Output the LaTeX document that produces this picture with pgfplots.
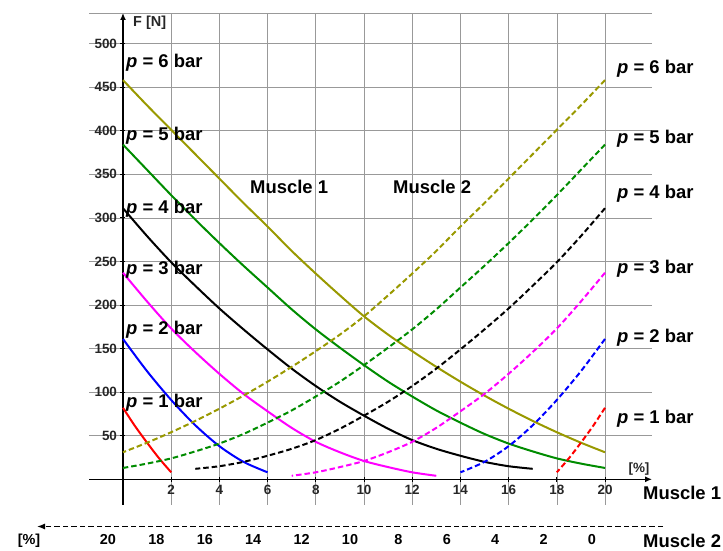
\documentclass[border=0pt]{standalone}
\usepackage{pgfplots}
\pgfplotsset{compat=1.18}
\usepackage{pgfplotstable}
\usetikzlibrary{arrows.meta}
\usepackage{fontspec}
\setmainfont{Liberation Sans}
\definecolor{olivec}{RGB}{153,153,0}
\definecolor{greenc}{RGB}{0,140,0}
\definecolor{magc}{RGB}{255,0,255}
\definecolor{bluec}{RGB}{0,0,255}
\definecolor{redc}{RGB}{255,0,0}

\pgfplotstableread{
x y
0 458
1 429
2 401
3 373
4 345
5 317
6 290
7 262
8 236
9 211
10 187
11 166
12 147
13 129
14 112
15 96
16 81
17 67
18 54
19 42
20 31
}\pSix
\pgfplotstableread{
x y
0 384
1 355
2 326
3 298
4 271
5 245
6 220
7 195
8 172
9 151
10 131
11 112
12 95
13 79
14 65
15 52
16 41
17 32
18 24
19 18
20 13
}\pFive
\pgfplotstableread{
x y
0 311
1 279
2 249
3 222
4 196
5 172
6 149
7 127
8 107
9 89
10 73
11 58
12 45
13 35
14 27
15 20
16 15
17 12
}\pFour
\pgfplotstableread{
x y
0 237
1 204
2 173
3 146
4 121
5 98
6 78
7 59
8 43
9 31
10 21
11 14
12 8
13 4
}\pThree
\pgfplotstableread{
x y
0 161
1 124
2 91
3 62
4 38
5 20
6 8
}\pTwo
\pgfplotstableread{
x y
0 82
0.5 61
1 42
1.5 24
2 8
}\pOne

\newcommand\lab{\bfseries\fontsize{18.5}{20}\selectfont}
\newcommand\plab[1]{\textit{p} = #1 bar}
\tikzset{dsh/.style={dash pattern=on 5.5bp off 3bp}}

\begin{document}
\begin{tikzpicture}
\path[use as bounding box] (0,0) rectangle (723bp,551bp);
\begin{axis}[
  at={(89bp,46bp)}, anchor=south west,
  scale only axis, width=563bp, height=492bp,
  xmin=-1.41, xmax=21.95, ymin=-29.5, ymax=535,
  axis lines=middle,
  axis line style={line width=1.3bp, -{Latex[length=7bp,width=6bp]}},
  xtick={2,4,...,20}, ytick={50,100,...,500},
  grid=major, grid style={black!40, line width=0.6bp},
  tick style={black, line width=0.8bp}, major tick length=5bp,
  ticklabel style={font=\bfseries\fontsize{13.5}{15}\selectfont, text=black!85},
  /pgf/number format/assume math mode=true,
  clip=false,
]
\draw[black!40, line width=0.6bp] (axis cs:-1.41,535) -- (axis cs:21.95,535);
\addplot[olivec, line width=2bp, smooth] table[x=x,y=y] {\pSix};
\addplot[greenc, line width=2bp, smooth] table[x=x,y=y] {\pFive};
\addplot[black, line width=2bp, smooth] table[x=x,y=y] {\pFour};
\addplot[magc, line width=2bp, smooth] table[x=x,y=y] {\pThree};
\addplot[bluec, line width=2bp, smooth] table[x=x,y=y] {\pTwo};
\addplot[redc, line width=2bp, smooth] table[x=x,y=y] {\pOne};
\addplot[olivec, line width=2bp, smooth, dsh] table[x expr=20-\thisrow{x},y=y] {\pSix};
\addplot[greenc, line width=2bp, smooth, dsh] table[x expr=20-\thisrow{x},y=y] {\pFive};
\addplot[black, line width=2bp, smooth, dsh] table[x expr=20-\thisrow{x},y=y] {\pFour};
\addplot[magc, line width=2bp, smooth, dsh] table[x expr=20-\thisrow{x},y=y] {\pThree};
\addplot[bluec, line width=2bp, smooth, dsh] table[x expr=20-\thisrow{x},y=y] {\pTwo};
\addplot[redc, line width=2bp, smooth, dsh] table[x expr=20-\thisrow{x},y=y] {\pOne};
\end{axis}
% left labels
\node[anchor=base west, inner sep=0, font=\lab] at (126bp,483bp) {\plab{6}};
\node[anchor=base west, inner sep=0, font=\lab] at (126bp,410.3bp) {\plab{5}};
\node[anchor=base west, inner sep=0, font=\lab] at (126bp,337.7bp) {\plab{4}};
\node[anchor=base west, inner sep=0, font=\lab] at (126bp,276.7bp) {\plab{3}};
\node[anchor=base west, inner sep=0, font=\lab] at (126bp,216bp) {\plab{2}};
\node[anchor=base west, inner sep=0, font=\lab] at (126bp,143bp) {\plab{1}};
% right labels
\node[anchor=base west, inner sep=0, font=\lab] at (617bp,477bp) {\plab{6}};
\node[anchor=base west, inner sep=0, font=\lab] at (617bp,407.7bp) {\plab{5}};
\node[anchor=base west, inner sep=0, font=\lab] at (617bp,352bp) {\plab{4}};
\node[anchor=base west, inner sep=0, font=\lab] at (617bp,277bp) {\plab{3}};
\node[anchor=base west, inner sep=0, font=\lab] at (617bp,208bp) {\plab{2}};
\node[anchor=base west, inner sep=0, font=\lab] at (617bp,127.7bp) {\plab{1}};
% muscle labels
\node[anchor=base west, inner sep=0, font=\lab] at (250bp,357bp) {Muscle 1};
\node[anchor=base west, inner sep=0, font=\lab] at (393bp,357bp) {Muscle 2};
\node[anchor=base west, inner sep=0, font=\lab] at (643bp,51bp) {Muscle 1};
\node[anchor=base west, inner sep=0, font=\lab] at (643bp,4bp) {Muscle 2};
% axis titles
\node[anchor=base west, inner sep=0, font=\bfseries\fontsize{14.5}{16}\selectfont, text=black!85] at (133bp,524bp) {F [N]};
\node[anchor=base, inner sep=0, font=\bfseries\fontsize{13.5}{15}\selectfont, text=black!85] at (639bp,78bp) {[\%]};
% muscle 2 scale
\draw[dsh, line width=1.2bp, -{Latex[length=8bp,width=6bp]}] (663bp,24.5bp) -- (37bp,24.5bp);
\node[anchor=base, inner sep=0, font=\bfseries\fontsize{14.5}{16}\selectfont] at (29bp,7bp) {[\%]};
\foreach \v/\px in {20/108,18/156.4,16/204.8,14/253.2,12/301.6,10/350,8/398.4,6/446.8,4/495.2,2/543.6,0/592}{
  \node[anchor=base, inner sep=0, font=\bfseries\fontsize{14.5}{16}\selectfont] at (\px bp,7bp) {\v};
}
\end{tikzpicture}
\end{document}
